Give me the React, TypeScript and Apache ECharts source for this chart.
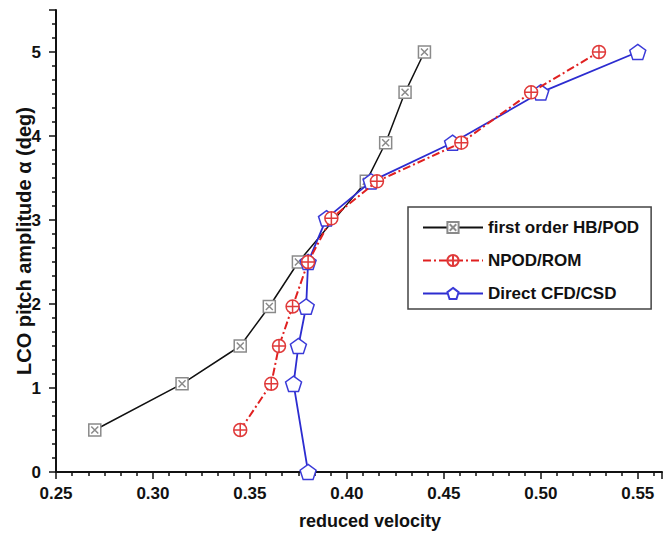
import React, { useEffect, useRef } from "react";
import * as echarts from "echarts";

const hbX = [0.27, 0.315, 0.345, 0.36, 0.375, 0.41, 0.42, 0.43, 0.44];
const hbY = [0.5, 1.05, 1.5, 1.97, 2.5, 3.46, 3.92, 4.52, 5.0];

const npodX = [0.345, 0.361, 0.365, 0.372, 0.38, 0.392, 0.4155, 0.459, 0.495, 0.53];
const npodY = [0.5, 1.05, 1.5, 1.97, 2.5, 3.02, 3.46, 3.92, 4.52, 5.0];

const cfdX = [0.38, 0.3725, 0.375, 0.379, 0.38, 0.3895, 0.4125, 0.4545, 0.5, 0.55];
const cfdY = [0.0, 1.05, 1.5, 1.97, 2.5, 3.02, 3.46, 3.92, 4.52, 5.0];

const seriesNames = ["first order HB/POD", "NPOD/ROM", "Direct CFD/CSD"];
const xTitle = "reduced velocity";
const yTitle = "LCO pitch amplitude \u03b1 (deg)";

const FONT = '"Liberation Sans", Arial, Helvetica, sans-serif';

const SQ = "path://M0,0L12,0L12,12L0,12ZM2.5,2.5L9.5,9.5M9.5,2.5L2.5,9.5";
const CP = "path://M0,-6A6,6,0,1,1,0,6A6,6,0,1,1,0,-6ZM-6,0L6,0M0,-6L0,6";
const PENT = "path://M0,-10L9.511,-3.09L5.878,8.09L-5.878,8.09L-9.511,-3.09Z";

const zip = (xs: number[], ys: number[]) => xs.map((x, i) => [x, ys[i]]);

export default function App() {
  const ref = useRef<HTMLDivElement>(null);
  useEffect(() => {
    if (!ref.current) return;
    const chart = echarts.init(ref.current, null, { renderer: "svg" });
    const axisCommon = {
      axisLine: { show: true, lineStyle: { color: "#111", width: 2 } },
      axisTick: { show: true, inside: false, length: 7, lineStyle: { color: "#111", width: 1.5 } },
      minorTick: { show: true, splitNumber: 6, length: 4, lineStyle: { color: "#111", width: 1.5 } },
      splitLine: { show: false },
      minorSplitLine: { show: false },
    };
    chart.setOption({
      animation: false,
      backgroundColor: "#fff",
      grid: { left: 56, right: 7, top: 10, bottom: 61, containLabel: false, outerBoundsMode: "none" },
      legend: {
        show: true,
        orient: "vertical",
        left: 408,
        top: 207,
        padding: [12, 12, 7, 14],
        itemGap: 16,
        itemWidth: 60,
        itemHeight: 14,
        backgroundColor: "#fff",
        borderColor: "#444",
        borderWidth: 1.5,
        borderRadius: 0,
        textStyle: { fontFamily: FONT, fontWeight: "bold", fontSize: 17, color: "#111" },
        data: seriesNames,
      },
      xAxis: {
        type: "value",
        min: 0.25,
        max: 0.5625,
        interval: 0.05,
        name: xTitle,
        nameLocation: "middle",
        nameGap: 40,
        nameMoveOverlap: false,
        nameTextStyle: {
          fontFamily: FONT,
          fontWeight: "bold",
          fontSize: 18,
          color: "#111",
          padding: [0, 0, 0, 22],
        },
        axisLabel: {
          margin: 13,
          fontFamily: FONT,
          fontWeight: "bold",
          fontSize: 17,
          color: "#111",
          showMaxLabel: false,
          formatter: (v: number) => (Math.abs(v / 0.05 - Math.round(v / 0.05)) < 1e-6 ? v.toFixed(2) : ""),
        },
        ...axisCommon,
      },
      yAxis: {
        type: "value",
        min: 0,
        max: 5.5,
        interval: 1,
        name: yTitle,
        nameLocation: "middle",
        nameGap: 22,
        nameRotate: 90,
        nameMoveOverlap: false,
        nameTextStyle: { fontFamily: FONT, fontWeight: "bold", fontSize: 20, color: "#111" },
        axisLabel: {
          margin: 15,
          fontFamily: FONT,
          fontWeight: "bold",
          fontSize: 17,
          color: "#111",
          showMaxLabel: false,
          formatter: (v: number) => (Number.isInteger(v) ? String(v) : ""),
        },
        ...axisCommon,
      },
      series: [
        {
          name: seriesNames[0],
          type: "line",
          data: zip(hbX, hbY),
          symbol: SQ,
          symbolSize: 12,
          symbolKeepAspect: true,
          lineStyle: { color: "#111", width: 1.5, type: "solid" },
          itemStyle: { color: "#fff", borderColor: "#8a8a8a", borderWidth: 1.5 },
          z: 2,
        },
        {
          name: seriesNames[2],
          type: "line",
          data: zip(cfdX, cfdY),
          symbol: PENT,
          symbolSize: 16,
          symbolKeepAspect: true,
          lineStyle: { color: "#2c2cd0", width: 1.8, type: "solid" },
          itemStyle: { color: "#fff", borderColor: "#3a3ad8", borderWidth: 1.5 },
          z: 3,
        },
        {
          name: seriesNames[1],
          type: "line",
          data: zip(npodX, npodY),
          symbol: CP,
          symbolSize: 13,
          symbolKeepAspect: true,
          lineStyle: { color: "#e02020", width: 2, type: [8, 3, 2, 3] },
          itemStyle: { color: "#fff", borderColor: "#e03a3a", borderWidth: 1.5 },
          z: 4,
        },
      ],
    });
    return () => chart.dispose();
  }, []);
  return (
    <div
      ref={ref}
      style={{ position: "absolute", left: 0, top: 0, width: 669, height: 533 }}
    />
  );
}
